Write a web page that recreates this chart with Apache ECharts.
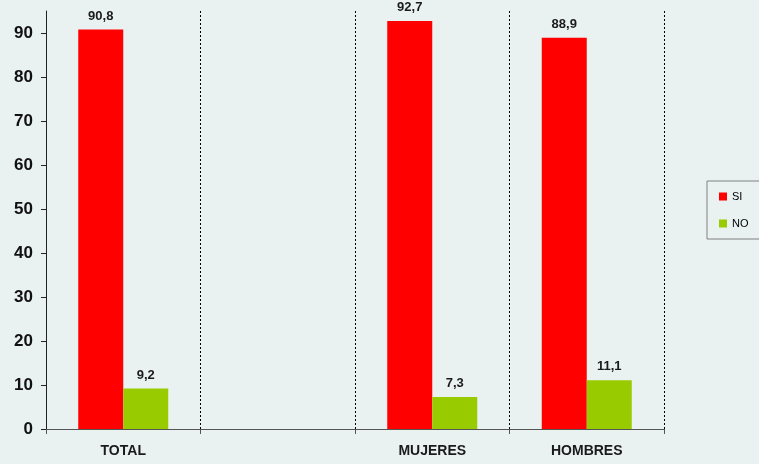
<!DOCTYPE html>
<html>
<head>
<meta charset="utf-8">
<script src="https://cdn.jsdelivr.net/npm/echarts@6/dist/echarts.min.js"></script>
<style>
  html, body { margin: 0; padding: 0; background: #e9f2f1; }
  #chart { width: 759px; height: 464px; }
</style>
</head>
<body>
<div id="chart"></div>
<script>
// Categories along the x axis (the second slot is intentionally empty)
const categories = ['TOTAL', '', 'MUJERES', 'HOMBRES'];
// Percentages answering SI / NO
const siValues = [90.8, null, 92.7, 88.9];
const noValues = [9.2, null, 7.3, 11.1];
// Y axis tick labels
const yTicks = [0, 10, 20, 30, 40, 50, 60, 70, 80, 90];

const fmt = v => v.toFixed(1).replace('.', ',');
const font = 'Liberation Sans, Arial, sans-serif';

const chart = echarts.init(document.getElementById('chart'));
chart.setOption({
  backgroundColor: '#e9f2f1',
  animation: false,
  grid: { left: 46, right: 95, top: 11, bottom: 35 },
  legend: {
    orient: 'vertical',
    left: 707,
    top: 181,
    padding: [10, 14, 10, 12],
    itemGap: 16,
    itemWidth: 8,
    itemHeight: 8,
    icon: 'rect',
    borderColor: '#808080',
    borderWidth: 1,
    textStyle: { fontFamily: font, fontSize: 11, color: '#000' },
    data: ['SI', 'NO']
  },
  xAxis: {
    type: 'category',
    data: categories,
    axisLine: { lineStyle: { color: '#555', width: 1 } },
    axisTick: { show: true, length: 5, lineStyle: { color: '#555' } },
    axisLabel: {
      fontFamily: font, fontSize: 14, fontWeight: 'bold', color: '#1a1a1a', margin: 15
    },
    splitLine: {
      show: true,
      interval: 0,
      lineStyle: { color: '#000', type: [2, 2], width: 1 }
    }
  },
  yAxis: {
    type: 'value',
    min: 0,
    max: 95,
    interval: 10,
    axisLine: { show: true, lineStyle: { color: '#222', width: 1 } },
    axisTick: { show: true, length: 5, customValues: yTicks, lineStyle: { color: '#222' } },
    axisLabel: {
      customValues: yTicks,
      fontFamily: font, fontSize: 17, fontWeight: 'bold', color: '#111', margin: 13
    },
    splitLine: { show: false }
  },
  series: [
    {
      name: 'SI',
      type: 'bar',
      data: siValues,
      barWidth: 45,
      barGap: '0%',
      itemStyle: { color: '#ff0000' },
      label: {
        show: true, position: 'top', distance: 7,
        fontFamily: font, fontSize: 13, fontWeight: 'bold', color: '#1a1a1a',
        formatter: p => fmt(p.value)
      }
    },
    {
      name: 'NO',
      type: 'bar',
      data: noValues,
      barWidth: 45,
      barGap: '0%',
      itemStyle: { color: '#99cc00' },
      label: {
        show: true, position: 'top', distance: 7,
        fontFamily: font, fontSize: 13, fontWeight: 'bold', color: '#1a1a1a',
        formatter: p => fmt(p.value)
      }
    }
  ]
});
</script>
</body>
</html>
